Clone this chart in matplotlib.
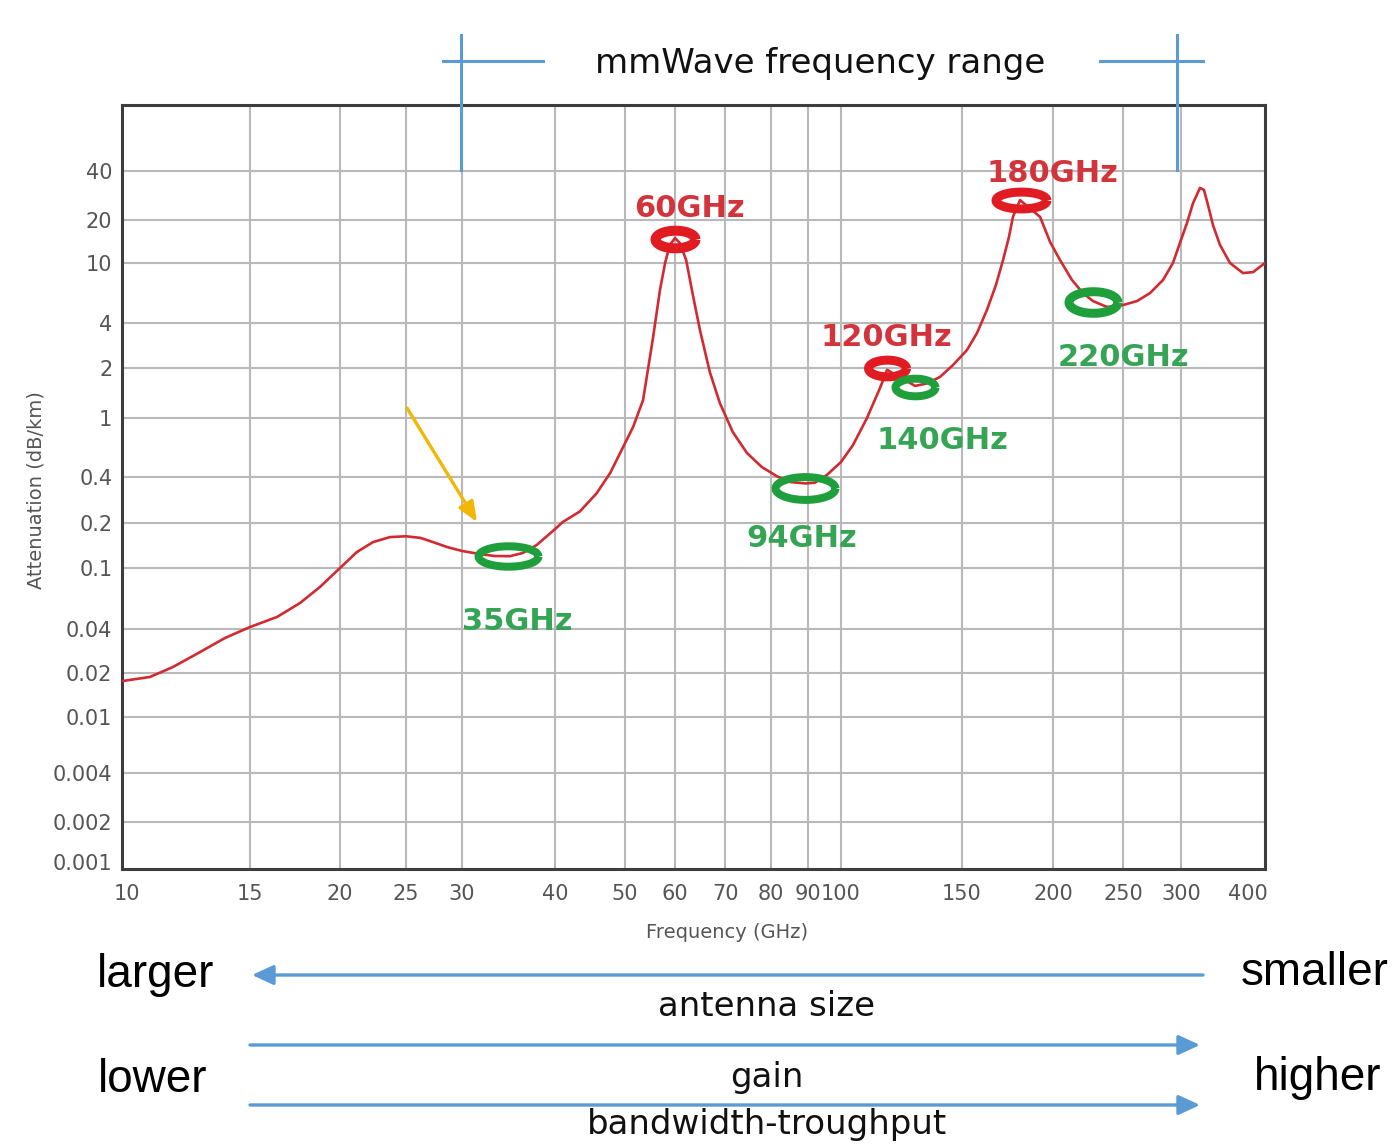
import numpy as np
import matplotlib
matplotlib.use('Agg')
import matplotlib.pyplot as plt
from matplotlib.path import Path
from matplotlib.lines import Line2D
from matplotlib.patches import FancyArrowPatch

# atmospheric attenuation curve
freq_ghz = [9.84, 10.79, 11.64, 12.72, 13.81, 15, 16.35, 17.6, 18.76, 20,
            21.18, 22.36, 23.68, 25, 26.2, 27.3, 28.6, 30, 31.7, 33.2,
            34.8, 36.2, 37.8, 40, 41.0, 43.3, 45.7, 47.7, 49.7, 51.5,
            53.4, 55.4, 56.8, 57.9, 58.9, 60, 60.9, 62.1, 63.4, 64.8,
            66.8, 68.9, 71.6, 74.6, 77.9, 81.5, 85.0, 89.2, 92.0, 95.6,
            100, 104.1, 109.1, 114.0, 116.7, 128.2, 133.8, 139.4, 145.5, 152.4,
            157.3, 162.3, 167.0, 170.8, 174.0, 176.2, 180.2, 192, 198.2, 204.5,
            212.5, 220, 227.2, 237.5, 250, 261.2, 272.2, 283.5, 292.5, 300,
            307.8, 315.9, 325.5, 331.1, 336.9, 344.2, 354.6, 370.2, 391.4, 408.7,
            430]
atten_db_km = [0.0176, 0.0188, 0.0220, 0.0278, 0.0347, 0.0412, 0.0479, 0.0591, 0.0752, 0.100,
               0.128, 0.149, 0.161, 0.163, 0.159, 0.149, 0.138, 0.130, 0.124, 0.1203,
               0.120, 0.126, 0.1425, 0.182, 0.203, 0.238, 0.314, 0.426, 0.637, 0.87,
               1.28, 3.22, 6.62, 10.1, 13.4, 14.96, 13.8, 10.5, 6.13, 3.59,
               1.89, 1.23, 0.804, 0.581, 0.467, 0.405, 0.371, 0.363, 0.367, 0.413,
               0.505, 0.657, 1.0, 1.52, 1.95, 1.56, 1.62, 1.77, 2.09, 2.64,
               3.43, 4.88, 7.15, 10.5, 15.2, 20.9, 26.5, 20.9, 14.0, 10.5,
               7.71, 6.32, 5.59, 5.11, 5.26, 5.59, 6.32, 7.71, 10, 14.5,
               19.05, 25.4, 31.5, 30.6, 24.7, 18.4, 13.4, 10, 8.58, 8.7,
               10]

# circled points
mark_freq = [34.6, 60, 89.2, 116.7, 128.2, 181, 227]
mark_att = [0.12, 14.7, 0.339, 2.0, 1.54, 26.5, 5.5]
mark_labels = ['35GHz', '60GHz', '94GHz', '120GHz', '140GHz', '180GHz', '220GHz']
mark_is_peak = [False, True, False, True, False, True, False]

x_ticks = [10, 15, 20, 25, 30, 40, 50, 60, 70, 80, 90, 100, 150, 200, 250, 300, 400]
y_ticks = [0.001, 0.002, 0.004, 0.01, 0.02, 0.04, 0.1, 0.2, 0.4, 1, 2, 4, 10, 20, 40]
y_labels = ['0.001', '0.002', '0.004', '0.01', '0.02', '0.04', '0.1', '0.2', '0.4',
            '1', '2', '4', '10', '20', '40']

# the printed chart has uneven grid spacing -> piecewise scale through the gridlines
W, H = 1397, 1145
X0, X1, Y0, Y1 = 122, 1265, 105, 869
xpix = [122, 127, 250, 340, 406, 462, 555, 625, 675, 725, 771, 808, 841, 962, 1053, 1123, 1181, 1248, 1265]
xval = [9.84] + x_ticks + [430]
ypix = [869, 862, 822, 773, 717, 673, 629, 568, 523, 477, 418, 368, 323, 263, 220, 171, 105]
yval = [0.000886] + y_ticks + [100]

xl, xp = np.log10(xval), np.array(xpix, float)
yl, yp = np.log10(yval), -np.array(ypix, float)


def xf(v):
    return np.interp(np.log10(np.clip(v, 1e-9, None)), xl, xp)


def xi(p):
    return 10 ** np.interp(p, xp, xl)


def yf(v):
    return np.interp(np.log10(np.clip(v, 1e-9, None)), yl, yp)


def yi(p):
    return 10 ** np.interp(p, yp, yl)


def fx(x):
    return x / W


def fy(y):
    return 1 - y / H


fig = plt.figure(figsize=(W / 100, H / 100), dpi=100)
ax = fig.add_axes([fx(X0), fy(Y1), (X1 - X0) / W, (Y1 - Y0) / H])
ax.set_xscale('function', functions=(xf, xi))
ax.set_yscale('function', functions=(yf, yi))
ax.set_xlim(9.84, 430)
ax.set_ylim(0.000886, 100)

grid_c = '#b9b9b9'
for v in x_ticks[1:-1]:
    ax.axvline(v, color=grid_c, lw=1.5, zorder=1)
for v in y_ticks[1:]:
    ax.axhline(v, color=grid_c, lw=1.5, zorder=1)

ax.plot(freq_ghz, atten_db_km, color='#d12a30', lw=1.9, zorder=3,
        solid_joinstyle='round')

# hand-drawn ellipses around the points
ring_w = [60, 40, 60, 38, 40, 51, 49]
ring_ratio = [0.34, 0.44, 0.38, 0.44, 0.44, 0.33, 0.44]
ring_t = [8, 10, 8, 9, 8, 9, 9]
lab_dx = [9, 14, -3, -1, 27, 31, 31]
lab_dy = [-74, 22, -59, 22, -62, 18, -64]
t = np.linspace(0, 2 * np.pi, 60)
for i in range(len(mark_freq)):
    ell = Path(np.column_stack([np.cos(t), ring_ratio[i] * np.sin(t)]))
    ec = '#e11b22' if mark_is_peak[i] else '#1f9e3c'
    tc = '#d3343c' if mark_is_peak[i] else '#35a455'
    ax.plot([mark_freq[i]], [mark_att[i]], marker=ell, ms=ring_w[i] * 0.72,
            mfc='none', mec=ec, mew=ring_t[i] * 0.72, zorder=4)
    ax.annotate(mark_labels[i], (mark_freq[i], mark_att[i]),
                xytext=(lab_dx[i], lab_dy[i]), textcoords='offset pixels',
                ha='center', va='baseline', color=tc, fontsize=22,
                fontweight='bold', family='DejaVu Sans', zorder=5)

ax.set_xticks(x_ticks)
ax.set_xticklabels([str(v) for v in x_ticks])
ax.set_yticks(y_ticks)
ax.set_yticklabels(y_labels)
ax.minorticks_off()
ax.tick_params(axis='both', length=0, labelsize=15, colors='#555555')
ax.tick_params(axis='x', pad=11)
ax.tick_params(axis='y', pad=7)
for s in ax.spines.values():
    s.set_color('#3d3d3d')
    s.set_linewidth(2.2)

ax.set_xlabel('Frequency (GHz)', fontsize=14, color='#555555', va='center')
ax.xaxis.set_label_coords((727 - X0) / (X1 - X0), (Y1 - 933) / (Y1 - Y0))
ax.set_ylabel('Attenuation (dB/km)', fontsize=14, color='#555555', va='center')
ax.yaxis.set_label_coords((36 - X0) / (X1 - X0), (Y1 - 490) / (Y1 - Y0))

blue = '#5b9bd5'
# mmWave range bracket
for xs, ys in [((443, 543), (61, 61)), ((1100, 1203), (61, 61)),
               ((461, 461), (35, 170)), ((1177, 1177), (35, 170))]:
    fig.add_artist(Line2D([fx(xs[0]), fx(xs[1])], [fy(ys[0]), fy(ys[1])],
                          transform=fig.transFigure, color=blue, lw=2.2, zorder=6))
fig.text(fx(820), fy(73), 'mmWave frequency range', ha='center', va='baseline',
         fontsize=24.5, family='DejaVu Sans', color='#111111')

# yellow pointer
fig.add_artist(FancyArrowPatch((fx(407), fy(408)), (fx(477), fy(522)),
                               transform=fig.transFigure, color='#f2b705', lw=2.4,
                               arrowstyle='-|>,head_length=0.6,head_width=0.25',
                               mutation_scale=20, shrinkA=0, shrinkB=0, zorder=6))

# trend arrows below the chart
for (x_a, x_b, y) in [(1203, 252, 975), (250, 1200, 1045), (250, 1200, 1105)]:
    fig.add_artist(FancyArrowPatch((fx(x_a), fy(y)), (fx(x_b), fy(y)),
                                   transform=fig.transFigure, color=blue, lw=2.4,
                                   arrowstyle='-|>,head_length=0.65,head_width=0.3',
                                   mutation_scale=20, shrinkA=0, shrinkB=0))

for txt, x, y in [('antenna size', 767, 1016), ('gain', 767, 1087),
                  ('bandwidth-troughput', 767, 1134)]:
    fig.text(fx(x), fy(y), txt, ha='center', va='baseline', fontsize=24.5,
             family='DejaVu Sans', color='#111111')
for txt, x, y in [('larger', 156, 987), ('smaller', 1315, 985),
                  ('lower', 153, 1092), ('higher', 1318, 1090)]:
    fig.text(fx(x), fy(y), txt, ha='center', va='baseline', fontsize=33,
             family='Liberation Sans', color='black')

fig.savefig('out.png', dpi=100, facecolor='white')
